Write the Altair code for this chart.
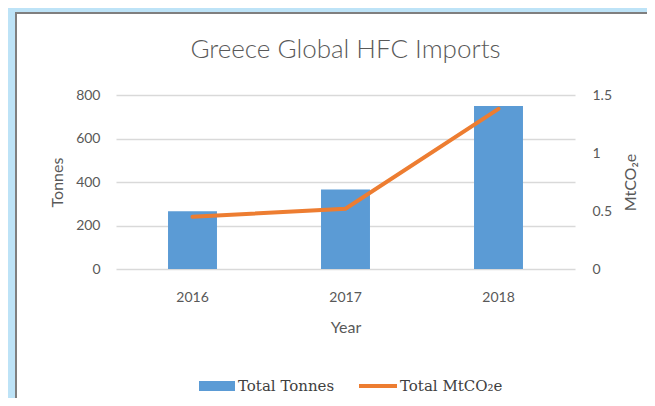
import altair as alt
import pandas as pd

years = ["2016", "2017", "2018"]
total_tonnes = [265, 365, 750]
total_mtco2e = [0.45, 0.52, 1.38]

df = pd.DataFrame({"year": years, "tonnes": total_tonnes, "mtco2e": total_mtco2e})

LABEL = "#595959"
FONT = "Lato"
W, H = 459, 174
PAD = {"left": 108, "top": 87, "right": 72, "bottom": 129}

xenc = alt.X(
    "year:N",
    scale=alt.Scale(paddingInner=0.68, paddingOuter=0.34),
    axis=alt.Axis(
        title="Year", labelAngle=0, domain=False, ticks=False, grid=False,
        labelPadding=21, titlePadding=15, labelFontSize=14, titleFontSize=16,
        labelColor=LABEL, titleColor=LABEL, labelFont=FONT, titleFont=FONT,
        titleFontWeight="normal",
    ),
)

bars = alt.Chart(df).transform_calculate(series="'Total Tonnes'").mark_bar(
    color="#5b9bd5"
).encode(
    x=xenc,
    y=alt.Y(
        "tonnes:Q",
        scale=alt.Scale(domain=[0, 800]),
        axis=alt.Axis(
            title="Tonnes", values=[0, 200, 400, 600, 800], domain=False, ticks=False,
            gridColor="#d9d9d9", gridWidth=1.5, labelPadding=16, titlePadding=10,
            labelFontSize=14, titleFontSize=16, labelColor=LABEL, titleColor=LABEL,
            labelFont=FONT, titleFont=FONT, titleFontWeight="normal",
        ),
    ),
    color=alt.Color(
        "series:N",
        scale=alt.Scale(domain=["Total Tonnes"], range=["#5b9bd5"]),
        legend=alt.Legend(
            title=None, orient="none", legendX=83, legendY=273,
            symbolType="M-1,-0.28H1V0.28H-1Z", symbolSize=1296, symbolOpacity=1,
            symbolStrokeWidth=0, labelFont="DejaVu Serif", labelFontSize=15,
            labelColor="#404040", labelOffset=3,
        ),
    ),
)

line = alt.Chart(df).transform_calculate(series2="'Total MtCO₂e'").mark_line(
    strokeWidth=4, strokeCap="round"
).encode(
    x=alt.X("year:N"),
    y=alt.Y(
        "mtco2e:Q",
        scale=alt.Scale(domain=[0, 1.5]),
        axis=alt.Axis(
            title="MtCO₂e", orient="right", values=[0, 0.5, 1, 1.5], format="~g",
            grid=False, domain=False, ticks=False, labelPadding=17, titlePadding=11,
            titleAngle=270, titleBaseline="top",
            labelFontSize=14, titleFontSize=16, labelColor=LABEL, titleColor=LABEL,
            labelFont=FONT, titleFont=FONT, titleFontWeight="normal",
        ),
    ),
    stroke=alt.Stroke(
        "series2:N",
        scale=alt.Scale(domain=["Total MtCO₂e"], range=["#ed7d31"]),
        legend=alt.Legend(
            title=None, orient="none", legendX=241, legendY=270,
            symbolType="stroke", symbolSize=1444, symbolStrokeWidth=4,
            labelFont="DejaVu Serif", labelFontSize=15, labelColor="#404040",
            labelOffset=1,
        ),
    ),
)

frame_data = alt.Data(values=[{"k": 1}])
blue_left = alt.Chart(frame_data).mark_rect(color="#bde3f7").encode(
    x=alt.value(-108), x2=alt.value(-101), y=alt.value(-87), y2=alt.value(303)
)
blue_top = alt.Chart(frame_data).mark_rect(color="#bde3f7").encode(
    x=alt.value(-108), x2=alt.value(531), y=alt.value(-87), y2=alt.value(-83)
)
gray_left = alt.Chart(frame_data).mark_rect(color="#7f7f7f").encode(
    x=alt.value(-101), x2=alt.value(-99), y=alt.value(-83), y2=alt.value(303)
)
gray_top = alt.Chart(frame_data).mark_rect(color="#7f7f7f").encode(
    x=alt.value(-101), x2=alt.value(531), y=alt.value(-83), y2=alt.value(-81)
)

chart = alt.layer(
    bars, line, blue_left, blue_top, gray_left, gray_top
).resolve_scale(
    y="independent", color="independent"
).properties(
    width=W, height=H,
    autosize=alt.AutoSizeParams(type="none"),
    padding=PAD,
    background="white",
    title=alt.TitleParams(
        "Greece Global HFC Imports", fontSize=26, font=FONT, fontWeight=300,
        color=LABEL, anchor="middle", offset=0, dy=55,
    ),
).configure_view(stroke=None)

chart.save("out.html", embed_options={"renderer": "svg", "actions": False})
